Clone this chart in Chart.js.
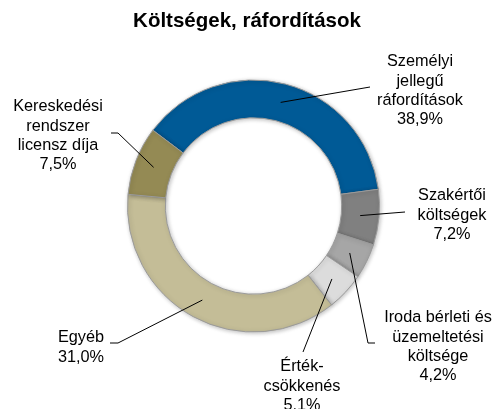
<!DOCTYPE html>
<html>
<head>
<meta charset="utf-8">
<script src="https://cdn.jsdelivr.net/npm/chart.js@4/dist/chart.umd.min.js"></script>
<style>
  html, body { margin: 0; padding: 0; background: #fff; }
  #wrap { width: 496px; height: 409px; position: relative; }
</style>
</head>
<body>
<div id="wrap"><canvas id="chart" width="496" height="409"></canvas></div>
<script>
// Chart data (slice sizes, label texts as printed)
const titleText = 'Költségek, ráfordítások';
const categories = [
    ['Személyi', 'jellegű', 'ráfordítások'],
    ['Szakértői', 'költségek'],
    ['Iroda bérleti és', 'üzemeltetési', 'költsége'],
    ['Érték-', 'csökkenés'],
    ['Egyéb'],
    ['Kereskedési', 'rendszer', 'licensz díja']
];
const sliceValues = [37.6, 7.1, 4.5, 4.9, 37.1, 8.8];
const percentLabels = ['38,9%', '7,2%', '4,2%', '5,1%', '31,0%', '7,5%'];
const sliceColors = ['#005A96', '#808080', '#A6A6A6', '#DCDCDC', '#C4BD97', '#948A54'];

// Label placement: text centre x, first line y, leader line end points
const labelLayout = [
    { x: 420, y: 62,  line: [[370, 87]] },
    { x: 452, y: 196, line: [[405, 212]] },
    { x: 438, y: 318, line: [[368, 343], [375, 343]] },
    { x: 302, y: 367, line: [[303, 352]] },
    { x: 81,  y: 338, line: [[118, 343], [110, 343]] },
    { x: 58,  y: 107, line: [[118, 133], [111, 133]] }
];

// Plugin: title, shadow, data labels with leader lines
const labelPlugin = {
    id: 'labelPlugin',
    beforeDatasetsDraw: function(chart) {
        const ctx = chart.ctx;
        ctx.save();
        ctx.shadowColor = 'rgba(0,0,0,0.25)';
        ctx.shadowBlur = 4;
        ctx.shadowOffsetX = 1;
        ctx.shadowOffsetY = 1;
    },
    afterDatasetsDraw: function(chart) {
        const ctx = chart.ctx;
        ctx.restore();
        const arcs = chart.getDatasetMeta(0).data;

        ctx.save();
        // Title
        ctx.fillStyle = '#000';
        ctx.font = 'bold 20.5px "Liberation Sans", Arial, sans-serif';
        ctx.textAlign = 'center';
        ctx.textBaseline = 'middle';
        ctx.fillText(titleText, 247, 21);

        // Leader lines
        ctx.strokeStyle = '#000';
        ctx.lineWidth = 1;
        arcs.forEach((arc, i) => {
            const p = arc.getCenterPoint();
            ctx.beginPath();
            ctx.moveTo(p.x, p.y);
            labelLayout[i].line.forEach(pt => ctx.lineTo(pt[0], pt[1]));
            ctx.stroke();
        });

        // Label texts
        ctx.font = '16.3px "Liberation Sans", Arial, sans-serif';
        categories.forEach((lines, i) => {
            const l = labelLayout[i];
            const all = lines.concat([percentLabels[i]]);
            all.forEach((t, j) => {
                ctx.fillText(t, l.x, l.y + j * 19.3);
            });
        });
        ctx.restore();
    }
};

const ctx = document.getElementById('chart').getContext('2d');
const chart = new Chart(ctx, {
    type: 'doughnut',
    data: {
        labels: categories.map(c => c.join(' ')),
        datasets: [{
            data: sliceValues,
            backgroundColor: sliceColors,
            borderColor: '#9a9a9a',
            borderWidth: 1,
            hoverOffset: 0,
            offset: 0
        }]
    },
    options: {
        responsive: false,
        animation: false,
        rotation: -53,
        cutout: '70%',
        layout: {
            padding: { left: 127, right: 116, top: 79, bottom: 76 }
        },
        plugins: {
            legend: { display: false },
            title: { display: false },
            tooltip: { enabled: false }
        },
        events: []
    },
    plugins: [labelPlugin]
});
</script>
</body>
</html>
